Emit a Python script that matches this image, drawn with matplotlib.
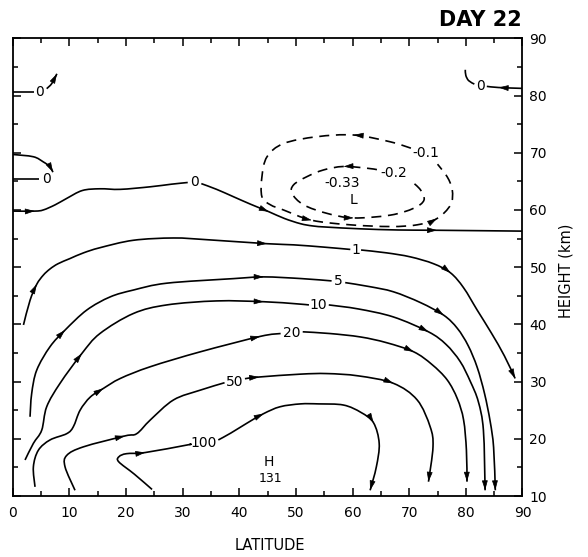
import numpy as np
import matplotlib.pyplot as plt
from matplotlib.path import Path
from matplotlib.patches import PathPatch

plt.rcParams['font.family'] = 'DejaVu Sans'

# streamlines as (latitude, height km) pairs
# each labelled line is split in two where the label sits

# zero lines
zero_tl_a = [(0, 80.7), (3.7, 80.7)]
zero_tl_b = [(6.0, 81.2), (6.9, 82.1), (7.8, 83.8)]
zero_ml_arc = [(0, 69.7), (3.65, 69.3), (5.4, 68.4), (6.6, 67.55), (7.1, 66.6)]
zero_ml_line = [(0, 65.4), (4.7, 65.4)]
zero_main_a = [(0, 59.8), (3.9, 59.8), (5.4, 60.0), (7.5, 60.9), (9.5, 62.0), (12.3, 63.4),
               (15.4, 63.7), (19.0, 63.6), (24.3, 64.05), (28, 64.5), (30.9, 64.8)]
zero_main_b = [(33.3, 64.6), (36, 63.6), (39.0, 62.3), (42, 61.0), (45.2, 59.7), (48, 58.5),
               (50.8, 57.6), (53, 57.2), (55.5, 57.0), (61.4, 56.7), (68, 56.5), (74.9, 56.45), (90, 56.3)]
zero_tr_a = [(90, 81.25), (85.8, 81.4), (83.7, 81.6)]
zero_tr_b = [(81.5, 82.0), (80.5, 82.6), (80.0, 83.5), (79.9, 84.5)]

# negative (dashed) cells
neg01 = [(70.3, 70.8), (66.7, 71.9), (60.2, 73.1), (53.7, 72.8), (47.8, 71.6), (44.9, 69.3),
         (44.0, 65.8), (44.0, 62.3), (45.5, 60.9), (47.8, 60.0), (52.8, 58.2), (59.6, 57.4),
         (66.7, 57.1), (71.4, 57.4), (74.9, 58.5), (77.3, 60.9), (77.6, 63.5), (76.7, 65.8), (75.0, 68.0)]
neg02 = [(64.3, 67.05), (62.5, 67.3), (58.4, 67.6), (54.9, 67.0), (51.9, 65.8), (49.6, 64.4),
         (49.3, 62.9), (51.35, 60.9), (55.5, 59.4), (60.2, 58.6), (66.7, 59.1), (70.8, 60.3),
         (72.6, 61.7), (72.0, 63.5), (70.2, 65.2)]

# positive lines
c1_a = [(1.9, 39.9), (3.06, 44.2), (4.24, 47.0), (5.4, 48.6), (6.6, 49.7), (8, 50.6), (10.1, 51.5),
        (12.5, 52.5), (15.4, 53.4), (21.3, 54.7), (28.4, 55.1), (34.3, 54.8), (44.9, 54.1),
        (49.6, 53.9), (55, 53.5), (59.6, 53.1)]
c1_b = [(61.5, 53.0), (66, 52.5), (70.2, 51.8), (74.3, 50.6), (77.3, 49.0), (79.6, 46.4),
        (82.0, 42.5), (84.5, 38.5), (86.8, 34.5), (88.7, 30.55)]
c5_a = [(3.06, 23.85), (3.35, 27.9), (4.24, 32.0), (6.59, 36.1), (9.24, 39.0), (13.07, 42.5),
        (17.2, 44.8), (21.3, 46.0), (27.2, 47.2), (39.0, 48.0), (44.3, 48.3), (51, 48.0), (56.3, 47.6)]
c5_b = [(58.7, 47.3), (63, 46.6), (67.2, 45.7), (72, 43.8), (76.1, 41.6), (78.5, 39.3), (80.4, 36.3),
        (82, 32.5), (83.3, 27.9), (84.3, 23), (84.9, 18.5), (85.2, 11.0)]
c10_a = [(2.18, 16.3), (3.65, 19.2), (5.12, 21.5), (6.0, 25.6), (8.36, 29.7), (12.2, 34.9),
         (15.4, 38.4), (21.3, 41.9), (27.2, 43.4), (36.0, 44.1), (44.3, 43.96), (50, 43.6), (52.3, 43.4)]
c10_b = [(55.8, 43.4), (61, 42.7), (67.2, 41.3), (73.4, 38.7), (76.5, 36.5), (79.0, 33.5),
         (80.8, 30), (82.2, 26.5), (83.1, 21.5), (83.4, 11.0)]
c20_a = [(3.94, 11.6), (3.65, 15.1), (4.53, 18.0), (6.59, 19.8), (9.54, 20.9), (10.7, 22.1),
         (11.9, 25.0), (13.7, 27.3), (16.0, 28.8), (19.0, 30.55), (24.3, 32.6), (33.1, 35.2),
         (43.7, 37.9), (47.3, 38.4)]
c20_b = [(51.2, 38.7), (56, 38.4), (61.4, 37.8), (66, 36.8), (70.8, 35.2), (74, 33), (76.7, 30.3),
         (78.5, 27), (79.6, 23.3), (80.1, 18), (80.2, 12.5)]
c50_a = [(11.0, 11.0), (9.24, 15.1), (9.54, 17.1), (12.5, 18.6), (19.8, 20.5), (21.9, 20.9),
         (24.3, 23.3), (28.4, 26.8), (33.1, 28.5), (37.4, 29.8)]
c50_b = [(41.0, 30.5), (43.5, 30.8), (50.8, 31.3), (55.5, 31.4), (61, 31.0), (67.2, 29.7),
         (71.4, 26.8), (73.7, 22.1), (74.2, 18.6), (73.4, 12.5)]
c100_a = [(24.6, 11.15), (21.5, 13.8), (18.7, 16.0), (18.8, 16.9), (20.1, 17.4), (23.4, 17.6),
          (30.7, 18.9), (31.2, 19.0)]
c100_b = [(36.3, 19.8), (38.5, 21.0), (41.3, 22.7), (44.3, 24.4), (47.2, 25.6), (50.8, 26.1),
          (54, 26.1), (58.4, 25.9), (61.5, 24.6), (63.7, 22.8), (64.7, 19.2), (64.2, 15.1), (63.1, 11.0)]

# line labels and where they sit
labels = ["0", "0", "0", "0", "-0.1", "-0.2", "-0.33", "L",
          "1", "5", "10", "20", "50", "100", "H", "131"]
label_lat = [4.8, 5.9, 32.1, 82.6, 72.9, 67.25, 58.1, 60.2,
             60.5, 57.5, 54.0, 49.2, 39.2, 33.7, 45.2, 45.5]
label_hgt = [80.7, 65.4, 64.8, 81.66, 69.9, 66.4, 64.65, 61.7,
             53.0, 47.5, 43.4, 38.5, 30.0, 19.2, 16.0, 13.1]


# smooth path through the read points (catmull-rom as cubic beziers)
def smooth_path(pts):
    n = len(pts)
    if n < 3:
        return Path(pts)
    ext = np.vstack([pts[0], pts, pts[-1]])
    verts = [pts[0]]
    codes = [Path.MOVETO]
    for i in range(n - 1):
        p0, p1, p2, p3 = ext[i], ext[i + 1], ext[i + 2], ext[i + 3]
        verts += [p1 + (p2 - p0) / 6, p2 - (p3 - p1) / 6, p2]
        codes += [Path.CURVE4] * 3
    return Path(verts, codes)


def draw(ax, pts, arrows=(), dashed=False):
    pts = np.array(pts, dtype=float)
    ls = (0, (6, 4)) if dashed else '-'
    ax.add_patch(PathPatch(smooth_path(pts), fill=False, edgecolor='k', lw=1.2, ls=ls, capstyle='butt'))
    for i in arrows:
        tip = pts[i]
        if i < len(pts) - 1:
            tang = pts[i + 1] - pts[i - 1]
        else:
            tang = pts[i] - pts[i - 1]
        tang = tang / np.hypot(*tang)
        start = tip - 0.4 * tang
        ax.annotate('', xy=tuple(tip), xytext=tuple(start),
                    arrowprops=dict(arrowstyle='-|>,head_length=0.6,head_width=0.18',
                                    color='k', lw=0.5, shrinkA=0, shrinkB=0))


fig = plt.figure(figsize=(5.88, 5.57), dpi=100)
ax = fig.add_axes([0.0216, 0.1095, 0.867, 0.8217])

draw(ax, zero_tl_a)
draw(ax, zero_tl_b, [2])
draw(ax, zero_ml_arc, [4])
draw(ax, zero_ml_line)
draw(ax, zero_main_a, [1])
draw(ax, zero_main_b, [4, 11])
draw(ax, zero_tr_a, [1])
draw(ax, zero_tr_b)

draw(ax, neg01, [2, 10, 14], dashed=True)
draw(ax, neg02, [2, 9], dashed=True)

draw(ax, c1_a, [2, 12])
draw(ax, c1_b, [4, 9])
draw(ax, c5_a, [4, 10])
draw(ax, c5_b, [4, 11])
draw(ax, c10_a, [5, 10])
draw(ax, c10_b, [3, 9])
draw(ax, c20_a, [8, 12])
draw(ax, c20_b, [4, 10])
draw(ax, c50_a, [4])
draw(ax, c50_b, [1, 5, 9])
draw(ax, c100_a, [5])
draw(ax, c100_b, [3, 9, 12])

for txt, x, y in zip(labels, label_lat, label_hgt):
    ax.text(x, y, txt, ha='center', va='center', fontsize=10 if txt != "131" else 9)

ax.set_xlim(0, 90)
ax.set_ylim(10, 90)
ax.set_xticks(range(0, 91, 10))
ax.set_xticks(range(5, 90, 10), minor=True)
ax.set_yticks(range(10, 91, 10))
ax.set_yticks(range(15, 90, 10), minor=True)
ax.tick_params(which='both', direction='in', top=True, bottom=True, left=True, right=True,
               labelleft=False, labelright=True, labelbottom=True, width=1.1)
ax.tick_params(which='major', length=6, labelsize=10)
ax.tick_params(which='minor', length=3.5)
ax.tick_params(axis='x', pad=7)
ax.tick_params(axis='y', pad=5)
for sp in ax.spines.values():
    sp.set_linewidth(1.3)

fig.text(522 / 588, 1 - 20 / 557, 'DAY 22', ha='right', va='center', fontsize=15, fontweight='bold')
fig.text(270 / 588, 1 - 545 / 557, 'LATITUDE', ha='center', va='center', fontsize=10.5)
fig.text(566 / 588, 1 - 271 / 557, 'HEIGHT (km)', ha='center', va='center', fontsize=10.5, rotation=90)

fig.savefig('out.png', dpi=100)
